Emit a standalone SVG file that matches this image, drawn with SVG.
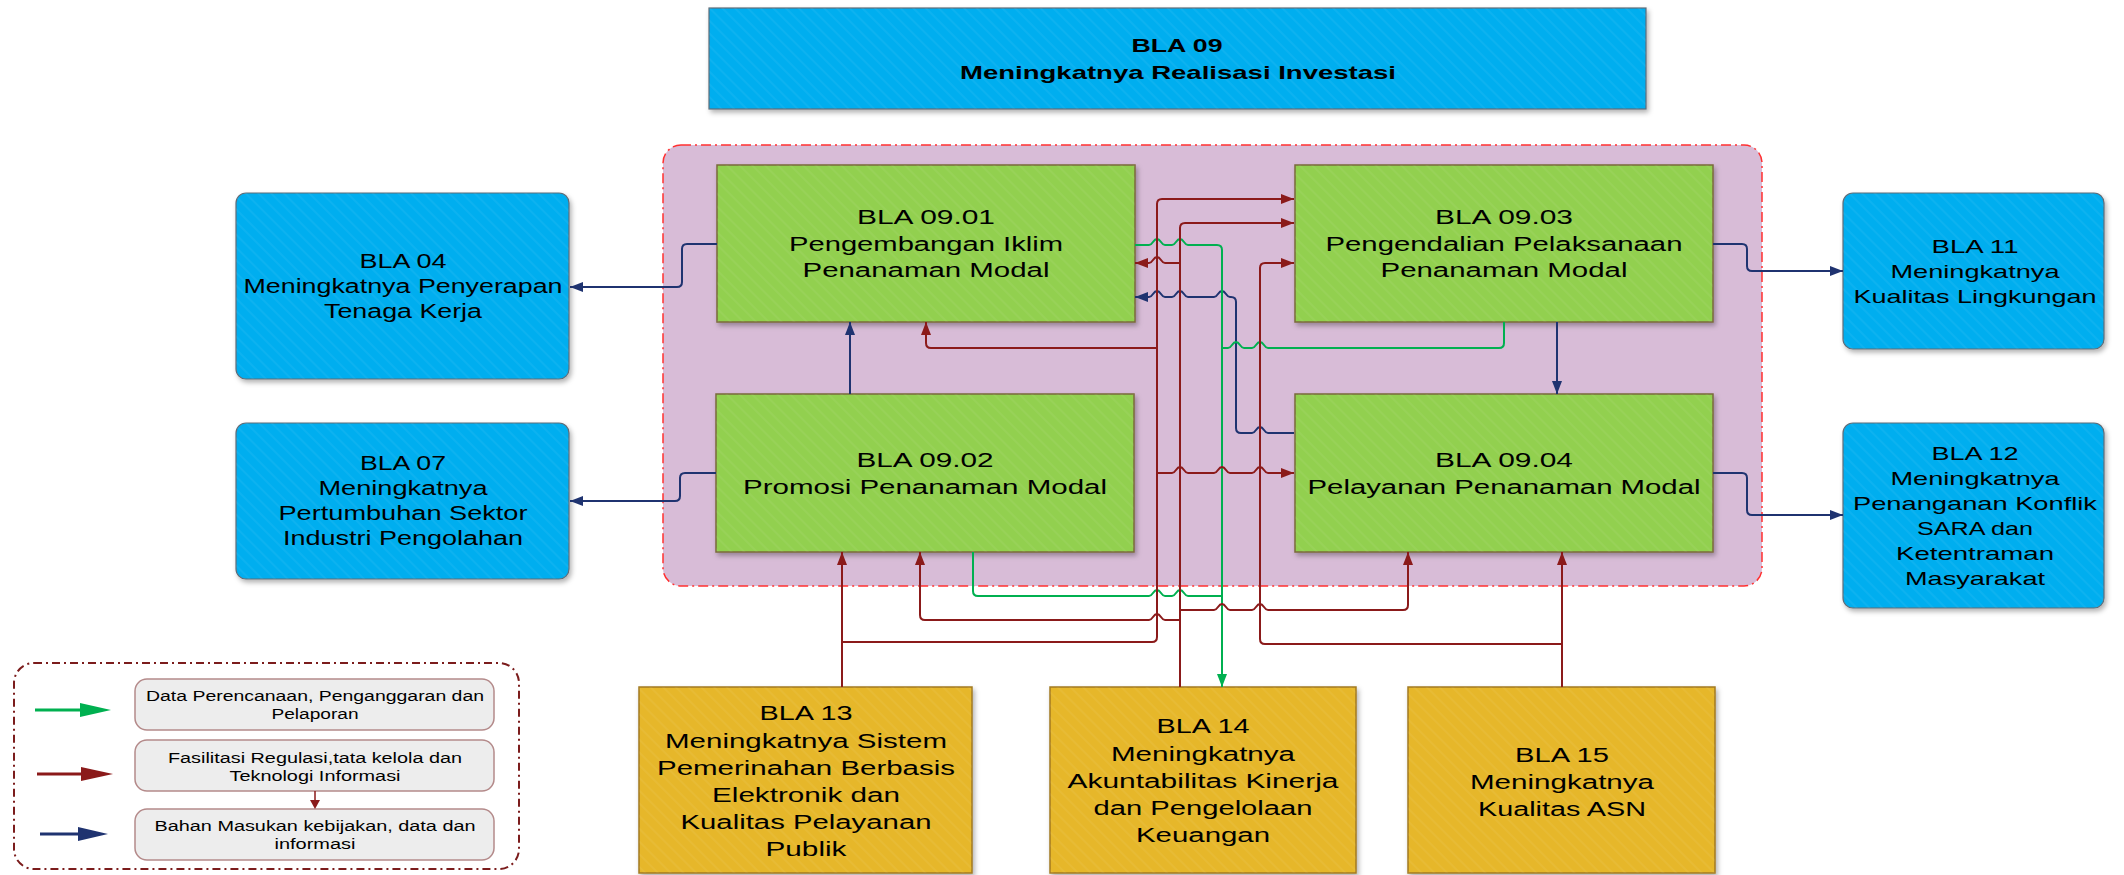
<svg xmlns="http://www.w3.org/2000/svg" width="2124" height="875" viewBox="0 0 2124 875">
<defs>
<filter id="sh" x="-5%" y="-5%" width="115%" height="125%"><feDropShadow dx="2" dy="3" stdDeviation="2.5" flood-color="#000" flood-opacity="0.3"/></filter>
<pattern id="hatch" width="9" height="9" patternUnits="userSpaceOnUse" patternTransform="rotate(-45)"><rect width="2" height="9" fill="#fff" fill-opacity="0.05"/></pattern>
<marker id="aR" markerUnits="userSpaceOnUse" markerWidth="13" markerHeight="10" refX="13" refY="5" orient="auto"><path d="M0,0 L13,5 L0,10 z" fill="#8B1A1A"/></marker>
<marker id="aG" markerUnits="userSpaceOnUse" markerWidth="13" markerHeight="10" refX="13" refY="5" orient="auto"><path d="M0,0 L13,5 L0,10 z" fill="#00B050"/></marker>
<marker id="aB" markerUnits="userSpaceOnUse" markerWidth="13" markerHeight="10" refX="13" refY="5" orient="auto"><path d="M0,0 L13,5 L0,10 z" fill="#1F3370"/></marker>
</defs>
<style>
.t{font-family:"Liberation Sans",Arial,sans-serif;fill:#000;text-anchor:middle}
.n{font-size:20px}
.s{font-size:19px}
.ti{font-size:19px;font-weight:bold}
.lg{font-size:14px}
.blue{fill:#00AEEF;stroke:#5E6C78;stroke-width:1.2}
.green{fill:#92D050;stroke:#7A6A3A;stroke-width:1.5}
.gold{fill:#E6B72A;stroke:#A27A22;stroke-width:1.5}
.hx{fill:url(#hatch);stroke:none}
.c{fill:none;stroke-width:2;stroke-linejoin:round}
.r{stroke:#8B1A1A}
.g{stroke:#00B050}
.b{stroke:#1F3370}
.mr{marker-end:url(#aR)}
.mg{marker-end:url(#aG)}
.mb{marker-end:url(#aB)}
</style>
<rect width="2124" height="875" fill="#fff"/>

<g id="bla09">
<rect x="709" y="8" width="937" height="101" class="blue" filter="url(#sh)"/>
<rect x="709" y="8" width="937" height="101" class="hx"/>
<text class="t ti" x="1177" y="52" textLength="91" lengthAdjust="spacingAndGlyphs">BLA 09</text>
<text class="t ti" x="1178" y="79" textLength="436" lengthAdjust="spacingAndGlyphs">Meningkatnya Realisasi Investasi</text>
</g>

<g id="cluster-bla09">
<rect x="663" y="145" width="1099" height="441" rx="18" fill="#D8BCD7" stroke="#FF3030" stroke-width="1.5" stroke-dasharray="10 4 2 4"/>
</g>

<g id="bla0901">
<rect x="717" y="165" width="418" height="157" class="green" filter="url(#sh)"/>
<rect x="717" y="165" width="418" height="157" class="hx"/>
<text class="t n" x="926" y="224" textLength="138" lengthAdjust="spacingAndGlyphs">BLA 09.01</text>
<text class="t n" x="926" y="251" textLength="274" lengthAdjust="spacingAndGlyphs">Pengembangan Iklim</text>
<text class="t n" x="926" y="277" textLength="247" lengthAdjust="spacingAndGlyphs">Penanaman Modal</text>
</g>

<g id="bla0903">
<rect x="1295" y="165" width="418" height="157" class="green" filter="url(#sh)"/>
<rect x="1295" y="165" width="418" height="157" class="hx"/>
<text class="t n" x="1504" y="224" textLength="138" lengthAdjust="spacingAndGlyphs">BLA 09.03</text>
<text class="t n" x="1504" y="251" textLength="357" lengthAdjust="spacingAndGlyphs">Pengendalian Pelaksanaan</text>
<text class="t n" x="1504" y="277" textLength="247" lengthAdjust="spacingAndGlyphs">Penanaman Modal</text>
</g>

<g id="bla0902">
<rect x="716" y="394" width="418" height="158" class="green" filter="url(#sh)"/>
<rect x="716" y="394" width="418" height="158" class="hx"/>
<text class="t n" x="925" y="467" textLength="137" lengthAdjust="spacingAndGlyphs">BLA 09.02</text>
<text class="t n" x="925" y="494" textLength="364" lengthAdjust="spacingAndGlyphs">Promosi Penanaman Modal</text>
</g>

<g id="bla0904">
<rect x="1295" y="394" width="418" height="158" class="green" filter="url(#sh)"/>
<rect x="1295" y="394" width="418" height="158" class="hx"/>
<text class="t n" x="1504" y="467" textLength="138" lengthAdjust="spacingAndGlyphs">BLA 09.04</text>
<text class="t n" x="1504" y="494" textLength="393" lengthAdjust="spacingAndGlyphs">Pelayanan Penanaman Modal</text>
</g>

<g id="bla04">
<rect x="236" y="193" width="333" height="186" rx="10" class="blue" filter="url(#sh)"/>
<rect x="236" y="193" width="333" height="186" rx="10" class="hx"/>
<text class="t n" x="403" y="268" textLength="87" lengthAdjust="spacingAndGlyphs">BLA 04</text>
<text class="t n" x="403" y="293" textLength="319" lengthAdjust="spacingAndGlyphs">Meningkatnya Penyerapan</text>
<text class="t n" x="403" y="318" textLength="158" lengthAdjust="spacingAndGlyphs">Tenaga Kerja</text>
</g>

<g id="bla07">
<rect x="236" y="423" width="333" height="156" rx="10" class="blue" filter="url(#sh)"/>
<rect x="236" y="423" width="333" height="156" rx="10" class="hx"/>
<text class="t n" x="403" y="470" textLength="86" lengthAdjust="spacingAndGlyphs">BLA 07</text>
<text class="t n" x="403" y="495" textLength="169" lengthAdjust="spacingAndGlyphs">Meningkatnya</text>
<text class="t n" x="403" y="520" textLength="249" lengthAdjust="spacingAndGlyphs">Pertumbuhan Sektor</text>
<text class="t n" x="403" y="545" textLength="240" lengthAdjust="spacingAndGlyphs">Industri Pengolahan</text>
</g>

<g id="bla11">
<rect x="1843" y="193" width="261" height="156" rx="10" class="blue" filter="url(#sh)"/>
<rect x="1843" y="193" width="261" height="156" rx="10" class="hx"/>
<text class="t s" x="1975" y="253" textLength="87" lengthAdjust="spacingAndGlyphs">BLA 11</text>
<text class="t s" x="1975" y="278" textLength="169" lengthAdjust="spacingAndGlyphs">Meningkatnya</text>
<text class="t s" x="1975" y="303" textLength="243" lengthAdjust="spacingAndGlyphs">Kualitas Lingkungan</text>
</g>

<g id="bla12">
<rect x="1843" y="423" width="261" height="185" rx="10" class="blue" filter="url(#sh)"/>
<rect x="1843" y="423" width="261" height="185" rx="10" class="hx"/>
<text class="t s" x="1975" y="460" textLength="87" lengthAdjust="spacingAndGlyphs">BLA 12</text>
<text class="t s" x="1975" y="485" textLength="169" lengthAdjust="spacingAndGlyphs">Meningkatnya</text>
<text class="t s" x="1975" y="510" textLength="244" lengthAdjust="spacingAndGlyphs">Penanganan Konflik</text>
<text class="t s" x="1975" y="535" textLength="116" lengthAdjust="spacingAndGlyphs">SARA dan</text>
<text class="t s" x="1975" y="560" textLength="158" lengthAdjust="spacingAndGlyphs">Ketentraman</text>
<text class="t s" x="1975" y="585" textLength="140" lengthAdjust="spacingAndGlyphs">Masyarakat</text>
</g>

<g id="bla13">
<rect x="639" y="687" width="333" height="186" class="gold" filter="url(#sh)"/>
<rect x="639" y="687" width="333" height="186" class="hx"/>
<text class="t n" x="806" y="720" textLength="93" lengthAdjust="spacingAndGlyphs">BLA 13</text>
<text class="t n" x="806" y="748" textLength="282" lengthAdjust="spacingAndGlyphs">Meningkatnya Sistem</text>
<text class="t n" x="806" y="775" textLength="298" lengthAdjust="spacingAndGlyphs">Pemerinahan Berbasis</text>
<text class="t n" x="806" y="802" textLength="188" lengthAdjust="spacingAndGlyphs">Elektronik dan</text>
<text class="t n" x="806" y="829" textLength="251" lengthAdjust="spacingAndGlyphs">Kualitas Pelayanan</text>
<text class="t n" x="806" y="856" textLength="81" lengthAdjust="spacingAndGlyphs">Publik</text>
</g>

<g id="bla14">
<rect x="1050" y="687" width="306" height="186" class="gold" filter="url(#sh)"/>
<rect x="1050" y="687" width="306" height="186" class="hx"/>
<text class="t n" x="1203" y="733" textLength="93" lengthAdjust="spacingAndGlyphs">BLA 14</text>
<text class="t n" x="1203" y="761" textLength="184" lengthAdjust="spacingAndGlyphs">Meningkatnya</text>
<text class="t n" x="1203" y="788" textLength="271" lengthAdjust="spacingAndGlyphs">Akuntabilitas Kinerja</text>
<text class="t n" x="1203" y="815" textLength="219" lengthAdjust="spacingAndGlyphs">dan Pengelolaan</text>
<text class="t n" x="1203" y="842" textLength="134" lengthAdjust="spacingAndGlyphs">Keuangan</text>
</g>

<g id="bla15">
<rect x="1408" y="687" width="307" height="186" class="gold" filter="url(#sh)"/>
<rect x="1408" y="687" width="307" height="186" class="hx"/>
<text class="t n" x="1562" y="762" textLength="94" lengthAdjust="spacingAndGlyphs">BLA 15</text>
<text class="t n" x="1562" y="789" textLength="184" lengthAdjust="spacingAndGlyphs">Meningkatnya</text>
<text class="t n" x="1562" y="816" textLength="168" lengthAdjust="spacingAndGlyphs">Kualitas ASN</text>
</g>

<g id="legend">
<rect x="14" y="663" width="505" height="206" rx="20" fill="#fff" stroke="#7B1C1C" stroke-width="2" stroke-dasharray="8 4 2 4"/>
<rect x="135" y="679" width="359" height="51" rx="12" fill="#EDEDED" stroke="#B48A8A" stroke-width="1.5"/>
<rect x="135" y="740" width="359" height="51" rx="12" fill="#EDEDED" stroke="#B48A8A" stroke-width="1.5"/>
<rect x="135" y="809" width="359" height="51" rx="12" fill="#EDEDED" stroke="#B48A8A" stroke-width="1.5"/>
<text class="t lg" x="315" y="701" textLength="338" lengthAdjust="spacingAndGlyphs">Data Perencanaan, Penganggaran dan</text>
<text class="t lg" x="315" y="719" textLength="87" lengthAdjust="spacingAndGlyphs">Pelaporan</text>
<text class="t lg" x="315" y="763" textLength="294" lengthAdjust="spacingAndGlyphs">Fasilitasi Regulasi,tata kelola dan</text>
<text class="t lg" x="315" y="781" textLength="171" lengthAdjust="spacingAndGlyphs">Teknologi Informasi</text>
<text class="t lg" x="315" y="831" textLength="321" lengthAdjust="spacingAndGlyphs">Bahan Masukan kebijakan, data dan</text>
<text class="t lg" x="315" y="849" textLength="81" lengthAdjust="spacingAndGlyphs">informasi</text>
<path d="M35,710 H82" stroke="#00B050" stroke-width="3"/>
<polygon points="80,703 111,710 80,717" fill="#00B050"/>
<path d="M37,774 H83" stroke="#8B1A1A" stroke-width="3"/>
<polygon points="81,767 113,774 81,781" fill="#8B1A1A"/>
<path d="M40,834 H80" stroke="#1F3370" stroke-width="3"/>
<polygon points="78,827 108,834 78,841" fill="#1F3370"/>
<path d="M315,791 V801" stroke="#8B1A1A" stroke-width="1.5"/>
<polygon points="310,800 320,800 315,809" fill="#8B1A1A"/>
</g>

<g id="connectors">
<path class="c b mb" d="M717,244 H687 Q682,244 682,249 V282 Q682,287 677,287 H570"/>
<path class="c b mb" d="M716,473 H685 Q680,473 680,478 V496 Q680,501 675,501 H570"/>
<path class="c b mb" d="M1713,244 H1742 Q1747,244 1747,249 V266 Q1747,271 1752,271 H1843"/>
<path class="c b mb" d="M1713,473 H1742 Q1747,473 1747,478 V510 Q1747,515 1752,515 H1843"/>
<path class="c b mb" d="M850,394 V322"/>
<path class="c b mb" d="M1557,322 V394"/>
<path class="c b mb" d="M1294,433 H1268 C1264,433 1264,427 1260,427 C1256,427 1256,433 1252,433 H1241 Q1236,433 1236,428 V302 Q1236,297 1231,297 H1230 C1226,297 1226,291 1222,291 C1218,291 1218,297 1214,297 H1188 C1184,297 1184,291 1180,291 C1176,291 1176,297 1172,297 H1165 C1161,297 1161,291 1157,291 C1153,291 1153,297 1149,297 H1135"/>

<path class="c g mg" d="M1135,245 H1149 C1153,245 1153,239 1157,239 C1161,239 1161,245 1165,245 H1172 C1176,245 1176,239 1180,239 C1184,239 1184,245 1188,245 H1217 Q1222,245 1222,250 V687"/>
<path class="c g" d="M1504,322 V343 Q1504,348 1499,348 H1268 C1264,348 1264,342 1260,342 C1256,342 1256,348 1252,348 H1244 C1240,348 1240,342 1236,342 C1232,342 1232,348 1228,348 H1222"/>
<path class="c g" d="M973,552 V591 Q973,596 978,596 H1149 C1153,596 1153,590 1157,590 C1161,590 1161,596 1165,596 H1172 C1176,596 1176,590 1180,590 C1184,590 1184,596 1188,596 H1222"/>

<path class="c r mr" d="M842,687 V552"/>
<path class="c r mr" d="M842,642 H1152 Q1157,642 1157,637 V204 Q1157,199 1162,199 H1294"/>
<path class="c r mr" d="M1157,348 H931 Q926,348 926,343 V322"/>
<path class="c r mr" d="M1157,473 H1172 C1176,473 1176,467 1180,467 C1184,467 1184,473 1188,473 H1214 C1218,473 1218,467 1222,467 C1226,467 1226,473 1230,473 H1252 C1256,473 1256,467 1260,467 C1264,467 1264,473 1268,473 H1294"/>
<path class="c r mr" d="M1180,687 V228 Q1180,223 1185,223 H1294"/>
<path class="c r mr" d="M1180,263 H1165 C1161,263 1161,257 1157,257 C1153,257 1153,263 1149,263 H1135"/>
<path class="c r mr" d="M1180,610 H1214 C1218,610 1218,604 1222,604 C1226,604 1226,610 1230,610 H1252 C1256,610 1256,604 1260,604 C1264,604 1264,610 1268,610 H1403 Q1408,610 1408,605 V552"/>
<path class="c r mr" d="M1180,620 H1165 C1161,620 1161,614 1157,614 C1153,614 1153,620 1149,620 H925 Q920,620 920,615 V552"/>
<path class="c r mr" d="M1562,687 V552"/>
<path class="c r mr" d="M1562,644 H1265 Q1260,644 1260,639 V268 Q1260,263 1265,263 H1294"/>
</g>
</svg>
